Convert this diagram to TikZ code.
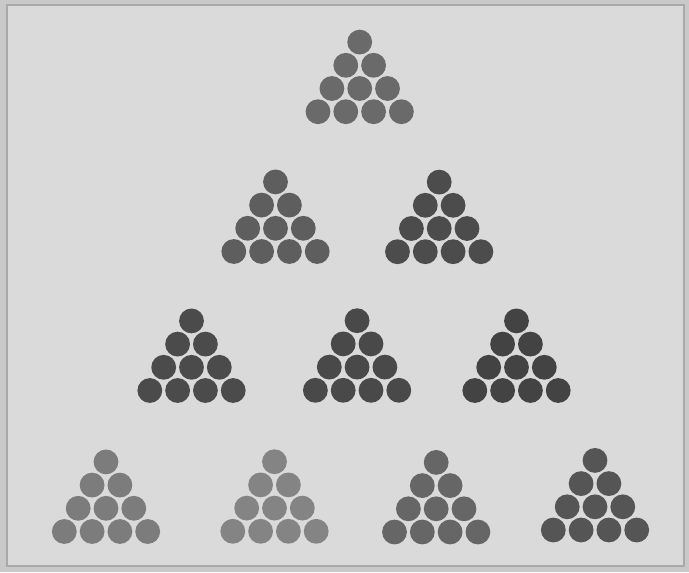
\documentclass[tikz,border=0pt]{standalone}
\usepackage{xcolor}
\usepackage{tikz}

\definecolor{board}{HTML}{DADADA}
\definecolor{boardedge}{HTML}{A9A9A9}
\definecolor{outside}{HTML}{C9C9C9}
\definecolor{toneA}{HTML}{6A6A6A}
\definecolor{toneB}{HTML}{5E5E5E}
\definecolor{toneC}{HTML}{4C4C4C}
\definecolor{toneD}{HTML}{4B4B4B}
\definecolor{toneE}{HTML}{494949}
\definecolor{toneF}{HTML}{434343}
\definecolor{toneG}{HTML}{7C7C7C}
\definecolor{toneH}{HTML}{848484}
\definecolor{toneI}{HTML}{666666}
\definecolor{toneJ}{HTML}{555555}

% pyramid of ten discs: centre x, y of bottom row, colour
\newcommand{\pyramid}[3]{%
  \foreach \r in {0,...,3}{
    \foreach \k in {0,...,\r}{
      \fill[#3] ({#1+(\k-\r/2)*27.8},{#2-(3-\r)*23.2}) circle[radius=0.31cm];
    }
  }
}

\begin{document}
\begin{tikzpicture}[x=0.025cm, y=-0.025cm]
  \useasboundingbox (0,0) rectangle (689,572);
  % board
  \fill[outside] (0,0) rectangle (689,572);
  \filldraw[fill=board, draw=boardedge, line width=1.2pt] (7,5) rectangle (684,566);
  % top row
  \pyramid{359.7}{111.7}{toneA}
  % second row
  \pyramid{275.5}{251.5}{toneB}
  \pyramid{439.2}{251.7}{toneC}
  % third row
  \pyramid{191.5}{390.5}{toneD}
  \pyramid{357.1}{390.3}{toneE}
  \pyramid{516.5}{390.5}{toneF}
  % bottom row
  \pyramid{106}{531.5}{toneG}
  \pyramid{274.5}{531.3}{toneH}
  \pyramid{436.2}{532}{toneI}
  \pyramid{595}{530}{toneJ}
\end{tikzpicture}
\end{document}
